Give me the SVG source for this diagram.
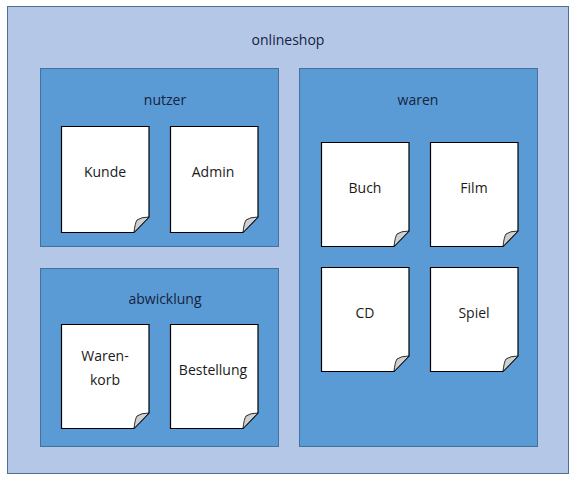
<svg xmlns="http://www.w3.org/2000/svg" width="577" height="482" viewBox="0 0 577 482">
<defs>
<style>
.outer{fill:#b4c7e7;stroke:#4f6f95;stroke-width:1}
.box{fill:#5b9bd5;stroke:#41719c;stroke-width:1}
.page{fill:#ffffff;stroke:#000000;stroke-width:1.2}
.fold{fill:#d0d0d0;stroke:#000000;stroke-width:0.8}
.ttl{font-family:"Open Sans","Liberation Sans",sans-serif;font-size:14px;fill:#14233f;text-anchor:middle}
.lbl{font-family:"Open Sans","Liberation Sans",sans-serif;font-size:14px;fill:#1a1a1a;text-anchor:middle}
</style>
</defs>
<rect width="577" height="482" fill="#ffffff"/>
<g id="onlineshop">
<rect class="outer" x="7.5" y="6.5" width="561" height="467"/>
<text class="ttl" x="288" y="45">onlineshop</text>
</g>
<g id="nutzer">
<rect class="box" x="40.5" y="68.5" width="238" height="178"/>
<text class="ttl" x="165" y="105">nutzer</text>
</g>
<g id="abwicklung">
<rect class="box" x="40.5" y="268.5" width="238" height="178"/>
<text class="ttl" x="165" y="304">abwicklung</text>
</g>
<g id="waren">
<rect class="box" x="299.5" y="68.5" width="238" height="378"/>
<text class="ttl" x="418" y="105">waren</text>
</g>
<g id="kunde" transform="translate(61,126)">
<path class="page" d="M0.5,0.5H88V91L73,106.5H0.5Z"/>
<path class="fold" d="M88,91L73,106.5Q74,97 76,94Q80,91 88,91Z"/>
<text class="lbl" x="44" y="51">Kunde</text>
</g>
<g id="admin" transform="translate(170,126)">
<path class="page" d="M0.5,0.5H88V91L73,106.5H0.5Z"/>
<path class="fold" d="M88,91L73,106.5Q74,97 76,94Q80,91 88,91Z"/>
<text class="lbl" x="43" y="51">Admin</text>
</g>
<g id="warenkorb" transform="translate(61,324)">
<path class="page" d="M0.5,0.5H88V89L73,104.5H0.5Z"/>
<path class="fold" d="M88,89L73,104.5Q74,95 76,92Q80,89 88,89Z"/>
<text class="lbl" x="44" y="37">Waren-</text>
<text class="lbl" x="44" y="61">korb</text>
</g>
<g id="bestellung" transform="translate(170,324)">
<path class="page" d="M0.5,0.5H88V89L73,104.5H0.5Z"/>
<path class="fold" d="M88,89L73,104.5Q74,95 76,92Q80,89 88,89Z"/>
<text class="lbl" x="43" y="51">Bestellung</text>
</g>
<g id="buch" transform="translate(321,142)">
<path class="page" d="M0.5,0.5H88V89L73,104.5H0.5Z"/>
<path class="fold" d="M88,89L73,104.5Q74,95 76,92Q80,89 88,89Z"/>
<text class="lbl" x="44" y="51">Buch</text>
</g>
<g id="film" transform="translate(430,142)">
<path class="page" d="M0.5,0.5H88V89L73,104.5H0.5Z"/>
<path class="fold" d="M88,89L73,104.5Q74,95 76,92Q80,89 88,89Z"/>
<text class="lbl" x="44" y="51">Film</text>
</g>
<g id="cd" transform="translate(321,267)">
<path class="page" d="M0.5,0.5H88V89L73,104.5H0.5Z"/>
<path class="fold" d="M88,89L73,104.5Q74,95 76,92Q80,89 88,89Z"/>
<text class="lbl" x="44" y="51">CD</text>
</g>
<g id="spiel" transform="translate(430,267)">
<path class="page" d="M0.5,0.5H88V89L73,104.5H0.5Z"/>
<path class="fold" d="M88,89L73,104.5Q74,95 76,92Q80,89 88,89Z"/>
<text class="lbl" x="44" y="51">Spiel</text>
</g>
<g id="connectors"></g>
</svg>
